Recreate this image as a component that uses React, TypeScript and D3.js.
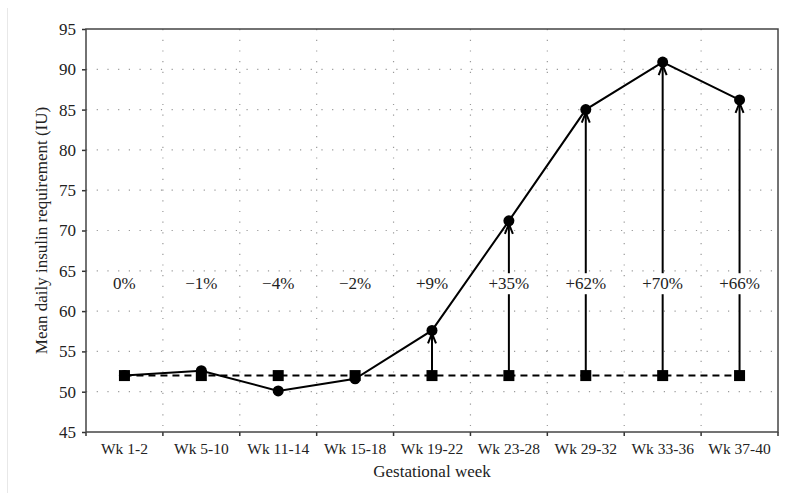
import { useEffect, useRef } from "react";
import * as d3 from "d3";

// gestational week groups and values
const weeks = ["Wk 1-2", "Wk 5-10", "Wk 11-14", "Wk 15-18", "Wk 19-22", "Wk 23-28", "Wk 29-32", "Wk 33-36", "Wk 37-40"];
const insulin = [52.0, 52.6, 50.1, 51.6, 57.6, 71.2, 85.0, 90.9, 86.2];
const baseline = [52, 52, 52, 52, 52, 52, 52, 52, 52];
const changeLabels = ["0%", "\u22121%", "\u22124%", "\u22122%", "+9%", "+35%", "+62%", "+70%", "+66%"];
const arrowFrom = 4; // arrows drawn from Wk 19-22 onward
const labelLevel = 63.2;
const yTicks = [45, 50, 55, 60, 65, 70, 75, 80, 85, 90, 95];

export default function App() {
  const ref = useRef<SVGSVGElement>(null);

  useEffect(() => {
    const width = 791;
    const height = 493;
    const margin = { top: 29, right: 13, bottom: 61, left: 86 };
    const font = "'Liberation Serif', 'Times New Roman', serif";

    const svg = d3.select(ref.current);
    svg.selectAll("*").remove();

    const x = d3.scaleBand()
      .domain(weeks)
      .range([margin.left, width - margin.right]);
    const cx = (d: string) => (x(d) as number) + x.bandwidth() / 2;

    const y = d3.scaleLinear()
      .domain([45, 95])
      .range([height - margin.bottom, margin.top]);

    const x0 = margin.left, x1 = width - margin.right;
    const y0 = height - margin.bottom, y1 = margin.top;

    // faint figure border
    svg.append("line")
      .attr("x1", 7.5).attr("x2", 7.5).attr("y1", 8).attr("y2", height)
      .attr("stroke", "#e8e8e8");

    // grid
    const grid = svg.append("g")
      .attr("stroke", "#9a9a9a")
      .attr("stroke-width", 1.2)
      .attr("stroke-dasharray", "1.2 9.5");
    grid.selectAll(".h")
      .data(yTicks.slice(1, -1))
      .enter().append("line")
      .attr("x1", x0).attr("x2", x1)
      .attr("y1", d => y(d)).attr("y2", d => y(d));
    grid.selectAll(".v")
      .data(weeks.slice(1))
      .enter().append("line")
      .attr("x1", d => x(d) as number).attr("x2", d => x(d) as number)
      .attr("y1", y1).attr("y2", y0);

    // axes ticks
    const yAxis = svg.append("g")
      .attr("transform", `translate(${x0},0)`)
      .call(d3.axisLeft(y).tickValues(yTicks).tickSize(4).tickPadding(6));
    yAxis.select(".domain").remove();
    yAxis.selectAll("line").attr("stroke", "#333").attr("stroke-width", 1.5);
    yAxis.selectAll("text")
      .attr("font-family", font)
      .attr("font-size", 17)
      .attr("fill", "#222");

    const xAxis = svg.append("g")
      .attr("transform", `translate(0,${y0})`)
      .call(d3.axisBottom(x).tickSize(0).tickPadding(11));
    xAxis.select(".domain").remove();
    xAxis.selectAll("text")
      .attr("font-family", font)
      .attr("font-size", 15.5)
      .attr("fill", "#222");
    svg.append("g")
      .selectAll("line")
      .data([...weeks, "end"])
      .enter().append("line")
      .attr("x1", (d, i) => x0 + i * x.bandwidth())
      .attr("x2", (d, i) => x0 + i * x.bandwidth())
      .attr("y1", y0).attr("y2", y0 + 4)
      .attr("stroke", "#333").attr("stroke-width", 1.5);

    // frame
    svg.append("rect")
      .attr("x", x0).attr("y", y1)
      .attr("width", x1 - x0).attr("height", y0 - y1)
      .attr("fill", "none")
      .attr("stroke", "#444")
      .attr("stroke-width", 1.5);

    // dashed baseline
    const line = d3.line<number>()
      .x((d, i) => cx(weeks[i]))
      .y(d => y(d));
    svg.append("path")
      .datum(baseline)
      .attr("d", line)
      .attr("fill", "none")
      .attr("stroke", "#000")
      .attr("stroke-width", 2)
      .attr("stroke-dasharray", "7 5");

    // arrows from baseline to value
    const arrows = svg.append("g").attr("stroke", "#000").attr("stroke-width", 2).attr("fill", "none");
    weeks.forEach((w, i) => {
      if (i < arrowFrom) return;
      const xc = cx(w);
      const tip = y(insulin[i]) + 3;
      arrows.append("line")
        .attr("x1", xc).attr("x2", xc)
        .attr("y1", y(baseline[i])).attr("y2", tip);
      arrows.append("path")
        .attr("d", `M${xc - 4},${tip + 10}L${xc},${tip}L${xc + 4},${tip + 10}`);
    });

    // change labels
    const labels = svg.append("g");
    weeks.forEach((w, i) => {
      const t = labels.append("text")
        .attr("x", cx(w))
        .attr("y", y(labelLevel))
        .attr("text-anchor", "middle")
        .attr("dominant-baseline", "middle")
        .attr("font-family", font)
        .attr("font-size", 17)
        .attr("fill", "#222")
        .text(changeLabels[i]);
      const bb = (t.node() as SVGTextElement).getBBox();
      labels.insert("rect", "text")
        .attr("x", bb.x - 2).attr("y", bb.y - 1)
        .attr("width", bb.width + 4).attr("height", bb.height + 2)
        .attr("fill", "#fff");
    });

    // insulin series
    svg.append("path")
      .datum(insulin)
      .attr("d", line)
      .attr("fill", "none")
      .attr("stroke", "#000")
      .attr("stroke-width", 2);

    svg.append("g")
      .selectAll("rect")
      .data(baseline)
      .enter().append("rect")
      .attr("x", (d, i) => cx(weeks[i]) - 5.5)
      .attr("y", d => y(d) - 5.5)
      .attr("width", 11).attr("height", 11)
      .attr("fill", "#000");

    svg.append("g")
      .selectAll("circle")
      .data(insulin)
      .enter().append("circle")
      .attr("cx", (d, i) => cx(weeks[i]))
      .attr("cy", d => y(d))
      .attr("r", 5.5)
      .attr("fill", "#000");

    // axis titles
    svg.append("text")
      .attr("x", (x0 + x1) / 2)
      .attr("y", height - 16)
      .attr("text-anchor", "middle")
      .attr("font-family", font)
      .attr("font-size", 17)
      .attr("fill", "#222")
      .text("Gestational week");

    svg.append("text")
      .attr("transform", `translate(47,${(y0 + y1) / 2}) rotate(-90)`)
      .attr("text-anchor", "middle")
      .attr("font-family", font)
      .attr("font-size", 17)
      .attr("fill", "#222")
      .text("Mean daily insulin requirement (IU)");
  }, []);

  return (
    <div style={{ position: "absolute", left: 0, top: 0 }}>
      <svg ref={ref} width={791} height={493} style={{ display: "block", background: "#fff" }} />
    </div>
  );
}
